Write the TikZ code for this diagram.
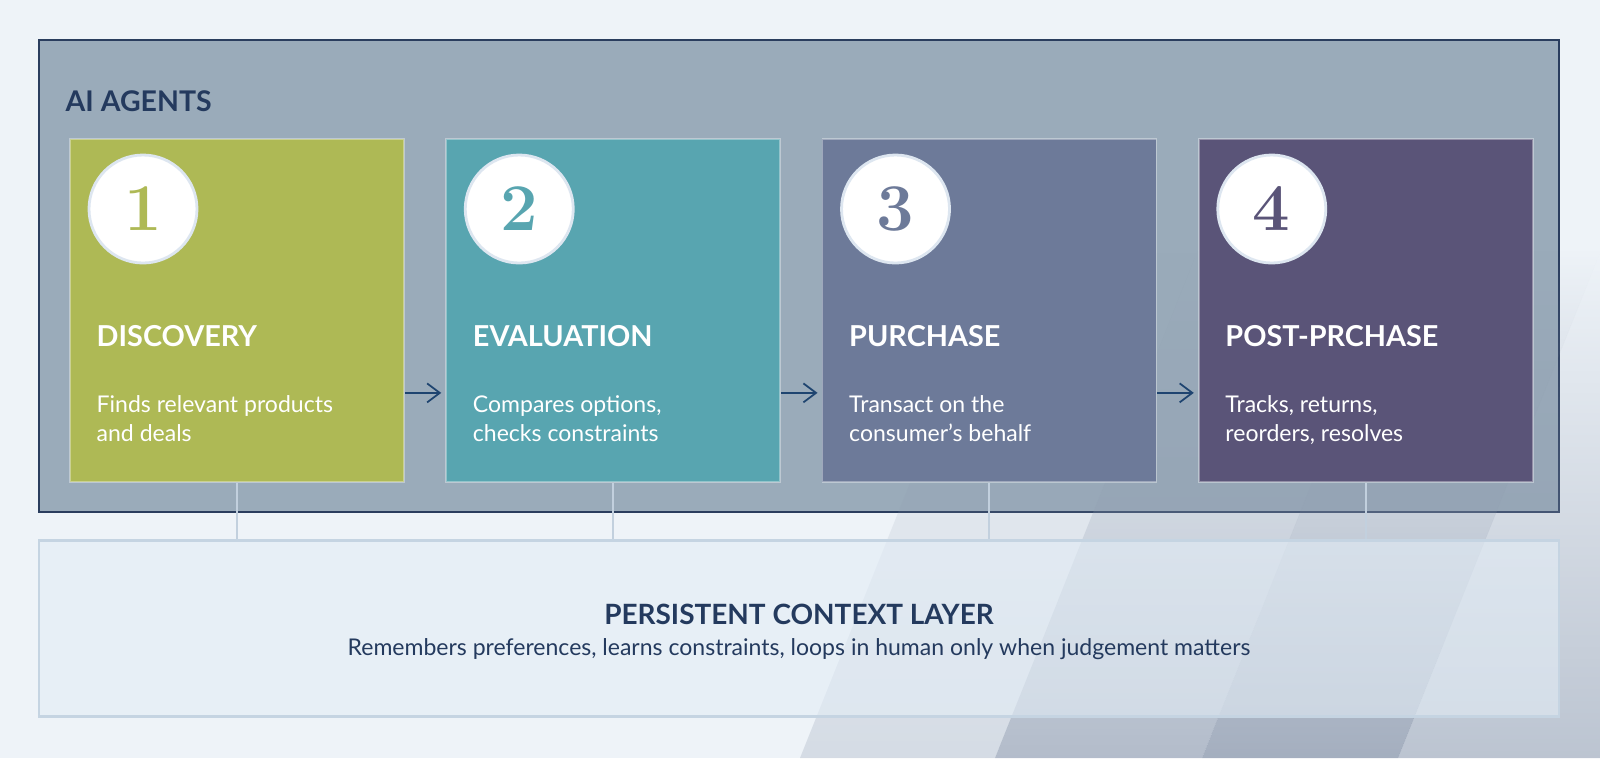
\documentclass[tikz,border=0pt]{standalone}
\usepackage{fontspec}
\setsansfont{Lato}
\usepackage{xcolor}
\usetikzlibrary{positioning, arrows.meta, fadings}
\definecolor{bgblue}{HTML}{EEF3F8}
\definecolor{agentgray}{HTML}{9AABBA}
\definecolor{agentnavy}{HTML}{2A3D5E}
\definecolor{textnavy}{HTML}{243A5E}
\definecolor{arrownavy}{HTML}{1E4470}
\definecolor{linkgray}{HTML}{C2D0DE}
\definecolor{ringgray}{HTML}{DDE6F0}
\definecolor{ctxfill}{HTML}{E3EDF6}
\definecolor{ctxline}{HTML}{C5D4E2}
\definecolor{stripegray}{HTML}{8E9AAE}
\definecolor{discgreen}{HTML}{AEB955}
\definecolor{evalteal}{HTML}{58A5B0}
\definecolor{purchblue}{HTML}{6D7A99}
\definecolor{postplum}{HTML}{5A5478}

\begin{document}
\begin{tikzpicture}[
	card/.style={draw=white, draw opacity=0.35, line width=0.5pt, minimum width=3.34cm, minimum height=3.43cm, anchor=north west, inner sep=0pt},
	badge/.style={circle, fill=white, draw=ringgray, line width=0.8pt, minimum size=1.08cm, inner sep=0pt, font=\rmfamily\bfseries\fontsize{19}{19}\selectfont},
	phase/.style={anchor=base west, inner sep=0pt, text=white, font=\sffamily\bfseries\fontsize{8.2}{10}\selectfont},
	blurb/.style={anchor=base west, inner sep=0pt, text=white, align=left, font=\sffamily\fontsize{6.55}{8.2}\selectfont},
	flow/.style={-{Straight Barb[length=3.6pt,width=5.4pt]}, draw=arrownavy, line width=0.5pt},
	link/.style={draw=linkgray, line width=0.6pt},
	stripe/.style={fill=stripegray, path fading=north},
	]
	\useasboundingbox (0,0) rectangle (16,7.58);
	%Background
	\fill[bgblue] (0,0) rectangle (16,7.58);
	%AI agents frame
	\draw[agentnavy, fill=agentgray, line width=0.6pt] (0.39,7.18) rectangle (15.59,2.46);
	\node[anchor=base west, inner sep=0pt, text=textnavy, font=\sffamily\bfseries\fontsize{8.1}{10}\selectfont] (agents) at (0.65,6.47) {AI AGENTS};
	%Diagonal stripes
	\begin{scope}
		\clip (0,0) rectangle (16,7.58);
		\fill[stripe, fill opacity=0.26] (8.00,0) -- (9.95,0) -- (11.98,5.08) -- (10.03,5.08) -- cycle;
		\fill[stripe, fill opacity=0.61] (9.95,0) -- (12.02,0) -- (14.05,5.08) -- (11.98,5.08) -- cycle;
		\fill[stripe, fill opacity=0.77] (12.02,0) -- (13.98,0) -- (16.01,5.08) -- (14.05,5.08) -- cycle;
		\fill[stripe, fill opacity=0.52] (13.98,0) -- (17,0) -- (17,5.08) -- (16.01,5.08) -- cycle;
	\end{scope}
	%Cards
	\node[card, fill=discgreen] (disc) at (0.69,6.20) {};
	\node[card, fill=evalteal, right=0.405cm of disc] (eval) {};
	\node[card, fill=purchblue, right=0.405cm of eval] (purch) {};
	\node[card, fill=postplum, right=0.405cm of purch] (post) {};
	%Numbers
	\node[badge, text=discgreen] (n1) at ([xshift=0.74cm, yshift=-0.71cm]disc.north west) {1};
	\node[badge, text=evalteal] (n2) at ([xshift=0.74cm, yshift=-0.71cm]eval.north west) {2};
	\node[badge, text=purchblue] (n3) at ([xshift=0.74cm, yshift=-0.71cm]purch.north west) {3};
	\node[badge, text=postplum] (n4) at ([xshift=0.74cm, yshift=-0.71cm]post.north west) {4};
	%Titles
	\node[phase] (t1) at ([xshift=0.27cm, yshift=-2.087cm]disc.north west) {DISCOVERY};
	\node[phase] (t2) at ([xshift=0.27cm, yshift=-2.087cm]eval.north west) {EVALUATION};
	\node[phase] (t3) at ([xshift=0.27cm, yshift=-2.087cm]purch.north west) {PURCHASE};
	\node[phase] (t4) at ([xshift=0.27cm, yshift=-2.087cm]post.north west) {POST-PRCHASE};
	%Descriptions
	\node[blurb] (d1) at ([xshift=0.27cm, yshift=-3.037cm]disc.north west) {Finds relevant products\\and deals};
	\node[blurb] (d2) at ([xshift=0.27cm, yshift=-3.037cm]eval.north west) {Compares options,\\checks constraints};
	\node[blurb] (d3) at ([xshift=0.27cm, yshift=-3.037cm]purch.north west) {Transact on the\\consumer's behalf};
	\node[blurb] (d4) at ([xshift=0.27cm, yshift=-3.037cm]post.north west) {Tracks, returns,\\reorders, resolves};
	%Arrows
	\draw[flow] ([yshift=-0.825cm]disc.east) -- ([xshift=-0.04cm, yshift=-0.825cm]eval.west);
	\draw[flow] ([yshift=-0.825cm]eval.east) -- ([xshift=-0.04cm, yshift=-0.825cm]purch.west);
	\draw[flow] ([yshift=-0.825cm]purch.east) -- ([xshift=-0.04cm, yshift=-0.825cm]post.west);
	%Persistent context layer
	\node[draw=ctxline, line width=0.8pt, fill=ctxfill, fill opacity=0.6, minimum width=15.2cm, minimum height=1.76cm, inner sep=0pt] (ctx) at (7.99,1.293) {};
	\node[anchor=base, inner sep=0pt, text=textnavy, font=\sffamily\bfseries\fontsize{7.95}{10}\selectfont] (ctxtitle) at (7.99,1.34) {PERSISTENT CONTEXT LAYER};
	\node[anchor=base, inner sep=0pt, text=textnavy, font=\sffamily\fontsize{6.55}{8}\selectfont] (ctxtext) at (7.99,1.023) {Remembers preferences, learns constraints, loops in human only when judgement matters};
	%Links down to the layer
	\foreach \c in {disc, eval, purch, post}
		\draw[link] (\c.south) -- (\c.south |- ctx.north);
\end{tikzpicture}
\end{document}
